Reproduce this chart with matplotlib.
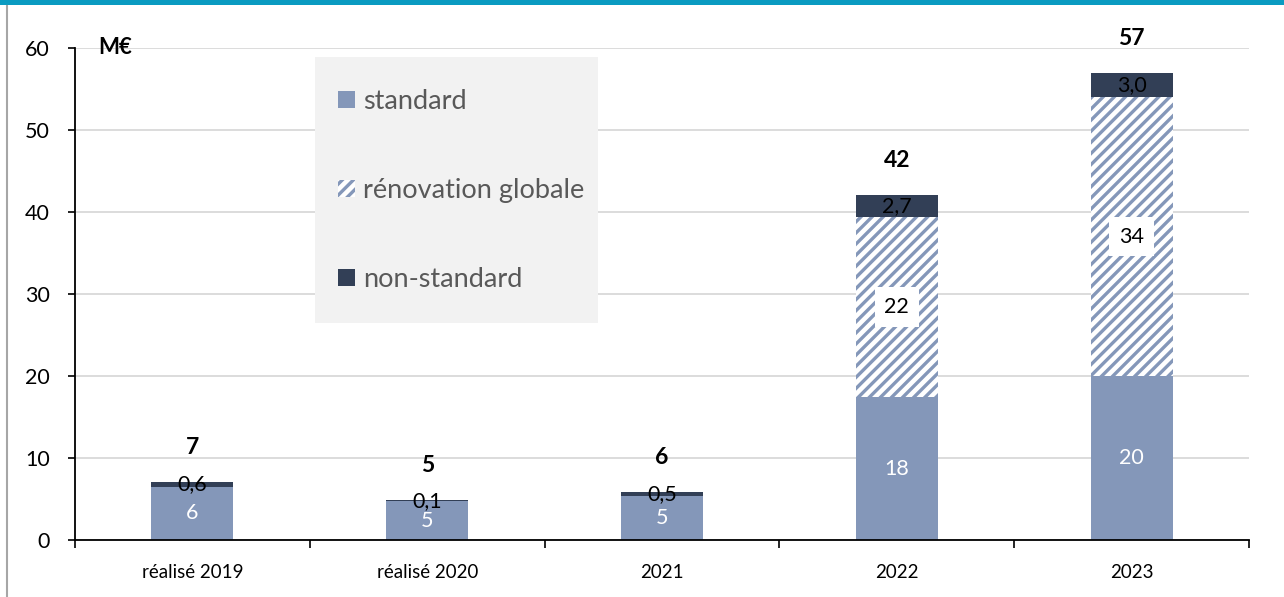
import numpy as np
import matplotlib.pyplot as plt
from matplotlib.patches import Rectangle
from matplotlib.lines import Line2D

plt.rcParams['font.family'] = ['Lato', 'DejaVu Sans']
plt.rcParams['hatch.linewidth'] = 2.4

# %% data
categories = ['réalisé 2019', 'réalisé 2020', '2021', '2022', '2023']
standard = [6.5, 4.75, 5.35, 17.4, 20.0]
renovation = [0, 0, 0, 22.0, 34.0]
non_standard = [0.6, 0.1, 0.5, 2.7, 3.0]
totals = [7, 5, 6, 42, 57]
lab_standard = ['6', '5', '5', '18', '20']
lab_renovation = ['', '', '', '22', '34']
lab_non = ['0,6', '0,1', '0,5', '2,7', '3,0']

c_std = '#8497B9'
c_non = '#323F56'

# %% figure
fig = plt.figure(figsize=(12.84, 5.97), dpi=100)
ax = fig.add_axes([75/1284, 1-540/597, (1249-75)/1284, (540-48)/597])

x = np.arange(len(categories))
w = 0.35
std = np.array(standard)
ren = np.array(renovation)
non = np.array(non_standard)

ax.bar(x, std, w, color=c_std, label='standard', zorder=2)
ax.bar(x, ren, w, bottom=std, color='white', edgecolor=c_std, linewidth=0,
       hatch='///', label='rénovation globale', zorder=2)
ax.bar(x, non, w, bottom=std+ren, color=c_non, label='non-standard', zorder=2)

for i in range(len(x)):
    ax.text(x[i], std[i]/2, lab_standard[i], ha='center', va='center',
            color='white', fontsize=15.5, zorder=3)
    if lab_renovation[i]:
        ax.text(x[i], std[i] + ren[i]/2, lab_renovation[i], ha='center', va='center',
                color='black', fontsize=15.5, zorder=3,
                bbox=dict(facecolor='white', edgecolor='none', pad=7))
    ax.text(x[i], std[i] + ren[i] + non[i]/2, lab_non[i], ha='center', va='center',
            color='black', fontsize=15.5, zorder=3)
    ax.text(x[i], std[i] + ren[i] + non[i] + 4.2, str(totals[i]), ha='center',
            va='center', fontsize=16.5, fontweight='bold', zorder=3)

ax.set_xlim(-0.5, len(x) - 0.5)
ax.set_ylim(0, 60)
ax.set_yticks(range(0, 61, 10))
ax.set_xticks(np.arange(-0.5, len(x), 1))
ax.set_xticklabels([])
ax.set_xticks(x, minor=True)
ax.set_xticklabels(categories, minor=True)
ax.tick_params(axis='x', which='major', direction='out', length=6, width=1.2)
ax.tick_params(axis='x', which='minor', length=0, pad=17, labelsize=13.5)
ax.tick_params(axis='y', direction='out', length=5, width=1.2, labelsize=15.5, pad=13)
ax.grid(axis='y', color='#d9d9d9', linewidth=1.3, zorder=0)
ax.set_axisbelow(True)
for s in ['top', 'right']:
    ax.spines[s].set_visible(False)
for s in ['left', 'bottom']:
    ax.spines[s].set_linewidth(1.3)

ax.text(98/1284, 1-48/597, 'M€', transform=fig.transFigure, fontsize=16,
        fontweight='bold', va='center')

# legend box
ax.add_patch(Rectangle((315/1284, 1-323/597), (598-315)/1284, (323-57)/597,
                       transform=fig.transFigure, facecolor='#f2f2f2',
                       edgecolor='none', zorder=4, clip_on=False))
leg = ax.legend(loc='upper left', bbox_to_anchor=(314/1284, 1-65/597),
                bbox_transform=fig.transFigure, frameon=False, fontsize=19.5,
                handlelength=0.6, handleheight=0.6, handletextpad=0.3,
                labelspacing=2.35, labelcolor='#595959')
leg.set_zorder(5)

# frame decorations
fig.patches.append(Rectangle((0, 1-5/597), 1, 5/597, transform=fig.transFigure,
                             facecolor='#0A9BC1', edgecolor='none'))
fig.lines.append(Line2D([7/1284, 7/1284], [0, 1-6/597], transform=fig.transFigure,
                        color='#a6a6a6', linewidth=1.5))

fig.savefig('out.png', dpi=100)
